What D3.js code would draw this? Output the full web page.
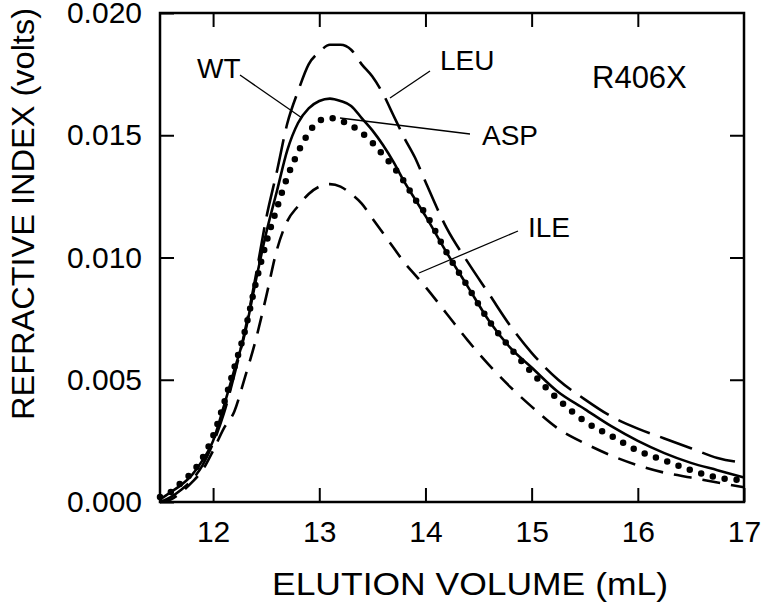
<!DOCTYPE html>
<html>
<head>
<meta charset="utf-8">
<script src="https://cdn.jsdelivr.net/npm/d3@7"></script>
<style>
  body { margin: 0; background: #fff; }
  svg text { font-family: Arial, "Liberation Sans", sans-serif; fill: #000; }
</style>
</head>
<body>
<script>
// elution volume (mL)
var volume = [11.5, 11.6, 11.7, 11.8, 11.9, 12.0, 12.1, 12.2, 12.3, 12.4, 12.5, 12.6, 12.7, 12.8, 12.9,
    13.0, 13.1, 13.2, 13.3, 13.4, 13.5, 13.6, 13.7, 13.8, 13.9, 14.0, 14.2, 14.4, 14.6, 14.8,
    15.0, 15.25, 15.5, 15.75, 16.0, 16.25, 16.5, 16.75, 17.0];

var wt = [0.0001, 0.0004, 0.0007, 0.0011, 0.0017, 0.0025, 0.0039, 0.0054, 0.0069, 0.0090, 0.0110, 0.0127, 0.0144, 0.0155, 0.0161,
    0.0164, 0.0165, 0.0164, 0.0162, 0.0157, 0.0152, 0.0146, 0.0139, 0.0131, 0.0124, 0.0117, 0.0102, 0.0088, 0.0074, 0.0063,
    0.0055, 0.0045, 0.0038, 0.0031, 0.0025, 0.0020, 0.0016, 0.0013, 0.0010];

var asp = [0.0002, 0.0004, 0.0008, 0.0012, 0.0018, 0.0027, 0.0040, 0.0055, 0.0070, 0.0089, 0.0106, 0.0120, 0.0133, 0.0143, 0.0151,
    0.0156, 0.0157, 0.0156, 0.0154, 0.0151, 0.0147, 0.0142, 0.0137, 0.0131, 0.0124, 0.0118, 0.0102, 0.0088, 0.0074, 0.0063,
    0.0053, 0.0042, 0.0033, 0.0027, 0.0021, 0.0017, 0.0013, 0.0010, 0.0009];

var leu = [0.0000, 0.0002, 0.0005, 0.0009, 0.0015, 0.0024, 0.0036, 0.0052, 0.0070, 0.0092, 0.0116, 0.0135, 0.0155, 0.0168, 0.0179,
    0.0184, 0.0187, 0.0187, 0.0185, 0.0179, 0.0174, 0.0167, 0.0158, 0.0149, 0.0141, 0.0131, 0.0112, 0.0098, 0.0085, 0.0072,
    0.0061, 0.0050, 0.0042, 0.0035, 0.0030, 0.0026, 0.0022, 0.0018, 0.0016];

var ile = [0.0000, 0.0001, 0.0004, 0.0008, 0.0013, 0.0021, 0.0030, 0.0037, 0.0051, 0.0066, 0.0084, 0.0103, 0.0115, 0.0121, 0.0126,
    0.0129, 0.0130, 0.0129, 0.0126, 0.0122, 0.0116, 0.0110, 0.0104, 0.0098, 0.0093, 0.0088, 0.0077, 0.0066, 0.0056, 0.0047,
    0.0039, 0.0030, 0.0024, 0.0019, 0.0015, 0.0012, 0.0010, 0.0008, 0.0006];

var xTicks = [12, 13, 14, 15, 16, 17];
var yTicks = [0, 0.005, 0.010, 0.015, 0.020];

var margin = { top: 13, right: 17, bottom: 103, left: 160 };
var w = 761 - margin.left - margin.right,
    h = 605 - margin.top - margin.bottom;

var svg = d3.select("body").append("svg")
    .attr("width", 761)
    .attr("height", 605);

var g = svg.append("g")
    .attr("transform", "translate(" + margin.left + "," + margin.top + ")");

var x = d3.scaleLinear().domain([11.5, 17]).range([0, w]);
var y = d3.scaleLinear().domain([0, 0.020]).range([h, 0]);

// axes, ticks point inward
g.append("g")
    .attr("transform", "translate(0," + h + ")")
    .call(d3.axisBottom(x).tickValues(xTicks).tickSize(-14).tickPadding(19).tickFormat(d3.format("d")));
g.append("g")
    .call(d3.axisTop(x).tickValues(xTicks.slice(0, 5)).tickSize(-14).tickFormat(""));
g.append("g")
    .call(d3.axisLeft(y).tickValues(yTicks).tickSize(-14).tickPadding(18).tickFormat(d3.format(".3f")));
g.append("g")
    .attr("transform", "translate(" + w + ",0)")
    .call(d3.axisRight(y).tickValues(yTicks.slice(1, 4)).tickSize(-14).tickFormat(""));

g.selectAll(".domain").remove();
g.selectAll(".tick line").attr("stroke", "#000").attr("stroke-width", 2);
g.selectAll(".tick text").style("font-size", "30px").attr("fill", "#000");

g.append("rect")
    .attr("width", w).attr("height", h)
    .attr("fill", "none").attr("stroke", "#000").attr("stroke-width", 2.5);

// curves
var line = d3.line()
    .x(function (d) { return x(d[0]); })
    .y(function (d) { return y(d[1]); })
    .curve(d3.curveMonotoneX);

function pairs(vals) {
    return volume.map(function (v, i) { return [v, vals[i]]; });
}

var series = [
    { name: "LEU", data: leu, dash: "34,11", width: 2.6, cap: "butt" },
    { name: "ILE", data: ile, dash: "18,11", width: 2.6, cap: "butt" },
    { name: "WT", data: wt, dash: null, width: 2.6, cap: "butt" },
    { name: "ASP", data: asp, dash: "0,12", width: 6.5, cap: "round" }
];

g.selectAll(".curve")
    .data(series)
    .enter()
    .append("path")
    .attr("class", "curve")
    .attr("d", function (d) { return line(pairs(d.data)); })
    .attr("fill", "none")
    .attr("stroke", "#000")
    .attr("stroke-width", function (d) { return d.width; })
    .attr("stroke-linecap", function (d) { return d.cap; })
    .attr("stroke-dasharray", function (d) { return d.dash; });

// labels with leader lines (page coordinates)
var labels = [
    { text: "WT", tx: 197, ty: 78, x1: 240, y1: 75, x2: 302, y2: 118 },
    { text: "LEU", tx: 440, ty: 70, x1: 430, y1: 71, x2: 390, y2: 98 },
    { text: "ASP", tx: 482, ty: 145, x1: 470, y1: 134, x2: 340, y2: 118 },
    { text: "ILE", tx: 528, ty: 237, x1: 518, y1: 231, x2: 419, y2: 273 }
];

labels.forEach(function (d) {
    svg.append("line")
        .attr("x1", d.x1).attr("y1", d.y1).attr("x2", d.x2).attr("y2", d.y2)
        .attr("stroke", "#000").attr("stroke-width", 1.3);
    svg.append("text")
        .attr("x", d.tx).attr("y", d.ty)
        .style("font-size", "28px")
        .text(d.text);
});

svg.append("text")
    .attr("x", 592).attr("y", 88)
    .style("font-size", "31px")
    .text("R406X");

// axis titles
svg.append("text")
    .attr("x", 272).attr("y", 595)
    .attr("textLength", 396)
    .attr("lengthAdjust", "spacingAndGlyphs")
    .style("font-size", "32px")
    .text("ELUTION VOLUME (mL)");

svg.append("text")
    .attr("transform", "translate(34,420) rotate(-90)")
    .attr("textLength", 412)
    .attr("lengthAdjust", "spacingAndGlyphs")
    .style("font-size", "32px")
    .text("REFRACTIVE INDEX (volts)");
</script>
</body>
</html>
